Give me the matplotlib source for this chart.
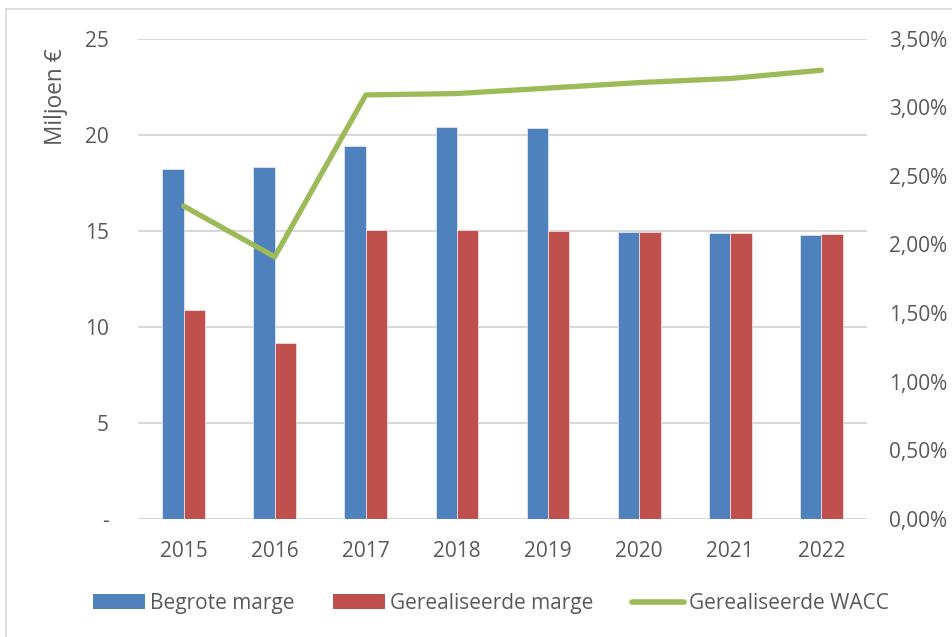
import matplotlib
matplotlib.use("Agg")
import matplotlib.pyplot as plt
import numpy as np
from matplotlib.patches import Patch
from matplotlib.lines import Line2D
from matplotlib.ticker import FuncFormatter, MultipleLocator

plt.rcParams['font.family'] = ['Open Sans', 'DejaVu Sans']

years = ['2015', '2016', '2017', '2018', '2019', '2020', '2021', '2022']
begrote_marge = [18.2, 18.33, 19.41, 20.42, 20.33, 14.92, 14.86, 14.77]
gerealiseerde_marge = [10.88, 9.17, 15.06, 15.04, 15.0, 14.95, 14.9, 14.83]
wacc_pct = [2.28, 1.91, 3.09, 3.10, 3.14, 3.18, 3.21, 3.27]

series_labels = ['Begrote marge', 'Gerealiseerde marge', 'Gerealiseerde WACC']
y_label = 'Miljoen €'

BLUE = '#4F81BD'
RED = '#C0504D'
GREEN = '#9BBB59'
GRID = '#D9D9D9'
TXT = '#595959'
FS = 15

W, H = 953, 637
fig = plt.figure(figsize=(W / 100, H / 100), dpi=100)

left, right, top, bottom = 138, 867, 38.7, 518.7
ax = fig.add_axes([left / W, 1 - bottom / H, (right - left) / W, (bottom - top) / H])

x = np.arange(len(years))
bw = 0.235
ax.bar(x - bw / 2, begrote_marge, width=bw, color=BLUE, edgecolor='#DCE6F2', linewidth=0.6, zorder=2)
ax.bar(x + bw / 2, gerealiseerde_marge, width=bw, color=RED, edgecolor='#F2DCDB', linewidth=0.6, zorder=2)

ax.set_xlim(-0.5, len(years) - 0.5)
ax.set_ylim(0, 25)
ax.yaxis.set_major_locator(MultipleLocator(5))
ax.yaxis.set_major_formatter(FuncFormatter(lambda v, p: '-' if abs(v) < 1e-9 else f'{v:.0f}'))
ax.set_xticks(x)
ax.set_xticklabels(years)
ax.grid(axis='y', color=GRID, linewidth=1.5, zorder=0)
ax.set_axisbelow(True)
for s in ax.spines.values():
    s.set_visible(False)
ax.tick_params(axis='both', length=0, labelsize=FS, labelcolor=TXT)
ax.tick_params(axis='y', pad=21)
ax.tick_params(axis='x', pad=16)

ax2 = ax.twinx()
ax2.plot(x, wacc_pct, color=GREEN, linewidth=3.8, solid_capstyle='round', solid_joinstyle='round', zorder=3)
ax2.set_ylim(0, 3.5)
ax2.yaxis.set_major_locator(MultipleLocator(0.5))
ax2.yaxis.set_major_formatter(FuncFormatter(lambda v, p: f'{v:.2f}'.replace('.', ',') + '%'))
for s in ax2.spines.values():
    s.set_visible(False)
ax2.tick_params(axis='y', length=0, labelsize=FS, labelcolor=TXT, pad=16)

fig.text(56 / W, 1 - 97 / H, y_label, rotation=90, ha='center', va='center', fontsize=16.3, color=TXT)

handles = [Patch(facecolor=BLUE, edgecolor='none'),
           Patch(facecolor=RED, edgecolor='none'),
           Line2D([0], [0], color=GREEN, linewidth=4, solid_capstyle='round')]
leg = fig.legend(handles, series_labels, loc='center', bbox_to_anchor=(491 / W, 1 - 603.5 / H),
                 ncol=3, frameon=False, fontsize=FS, handlelength=2.5, handleheight=0.7,
                 handletextpad=0.25, columnspacing=1.85, borderpad=0)
for t in leg.get_texts():
    t.set_color(TXT)

# chart-area border (top and left visible)
fig.add_artist(Line2D([6 / W, 1.0], [1 - 9 / H, 1 - 9 / H], color=GRID, linewidth=1.2, transform=fig.transFigure))
fig.add_artist(Line2D([6 / W, 6 / W], [0.0, 1 - 9 / H], color=GRID, linewidth=1.2, transform=fig.transFigure))

fig.savefig('out.png', dpi=100)
